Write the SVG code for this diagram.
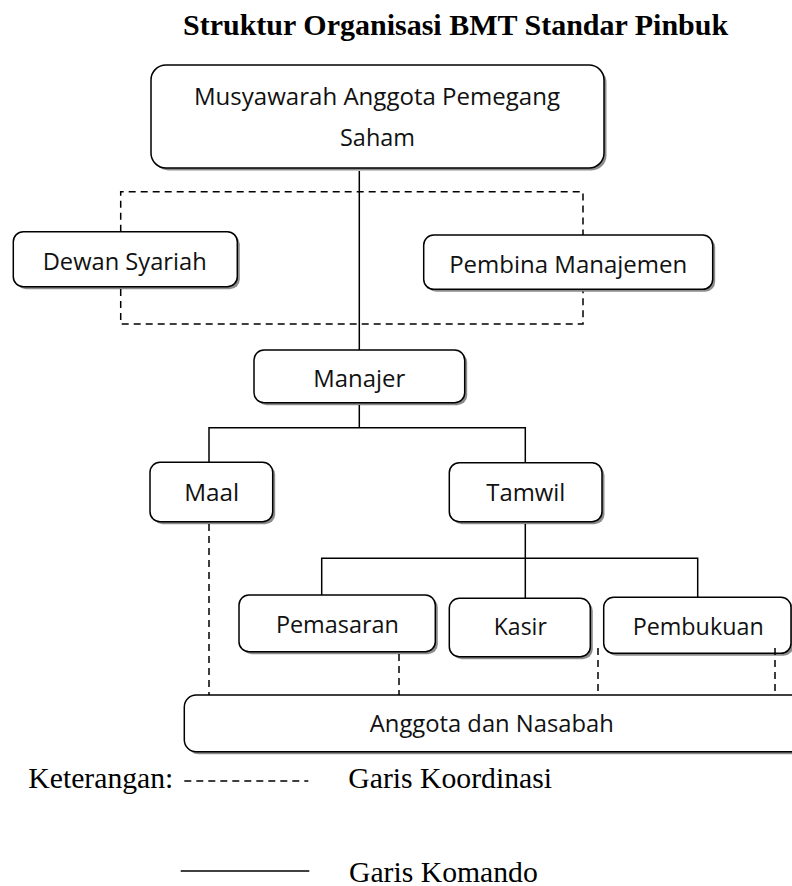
<svg xmlns="http://www.w3.org/2000/svg" width="792" height="886" viewBox="0 0 792 886">
  <style>
    .shadow { fill: #8c8c8c; stroke: none; }
    .box { fill: #ffffff; stroke: #000000; stroke-width: 1.5; }
    .lbl { font-family: "Open Sans", "Noto Sans", sans-serif; font-size: 24px; fill: #111111; text-anchor: middle; }
    .serif { font-family: "Liberation Serif", "Times New Roman", serif; fill: #000000; }
    .title { font-size: 30px; font-weight: bold; }
    .legend { font-size: 29.7px; }
    .solid { fill: none; stroke: #000000; stroke-width: 1.5; }
    .dash { fill: none; stroke: #000000; stroke-width: 1.5; stroke-dasharray: 7 5; }
  </style>
  <rect x="0" y="0" width="792" height="886" fill="#ffffff"/>

  <text id="title" class="serif title" x="183" y="35">Struktur Organisasi BMT Standar Pinbuk</text>

  <g id="node-musyawarah">
    <rect class="shadow" x="153.5" y="67.5" width="453" height="103" rx="15"/>
    <rect class="box" x="151" y="65" width="453" height="103" rx="15"/>
    <text class="lbl" x="377" y="105" textLength="366" lengthAdjust="spacingAndGlyphs">Musyawarah Anggota Pemegang</text>
    <text class="lbl" x="377.5" y="145.5" textLength="75" lengthAdjust="spacingAndGlyphs">Saham</text>
  </g>

  <g id="node-dewan-syariah">
    <rect class="shadow" x="15.8" y="234.2" width="224" height="55" rx="10"/>
    <rect class="box" x="13.3" y="231.7" width="224" height="55" rx="10"/>
    <text class="lbl" x="124.7" y="270" textLength="164" lengthAdjust="spacingAndGlyphs">Dewan Syariah</text>
  </g>

  <g id="node-pembina">
    <rect class="shadow" x="426.2" y="237.5" width="289" height="54.3" rx="10"/>
    <rect class="box" x="423.7" y="235" width="289" height="54.3" rx="10"/>
    <text class="lbl" x="568.2" y="273" textLength="238" lengthAdjust="spacingAndGlyphs">Pembina Manajemen</text>
  </g>

  <g id="node-manajer">
    <rect class="shadow" x="256.5" y="352.5" width="210.7" height="52.7" rx="10"/>
    <rect class="box" x="254" y="350" width="210.7" height="52.7" rx="10"/>
    <text class="lbl" x="359.3" y="387" textLength="92" lengthAdjust="spacingAndGlyphs">Manajer</text>
  </g>

  <g id="node-maal">
    <rect class="shadow" x="152.5" y="464.8" width="122.7" height="59.4" rx="10"/>
    <rect class="box" x="150" y="462.3" width="122.7" height="59.4" rx="10"/>
    <text class="lbl" x="211.7" y="500.7" textLength="55" lengthAdjust="spacingAndGlyphs">Maal</text>
  </g>

  <g id="node-tamwil">
    <rect class="shadow" x="451.8" y="465.2" width="152.7" height="59" rx="10"/>
    <rect class="box" x="449.3" y="462.7" width="152.7" height="59" rx="10"/>
    <text class="lbl" x="525.8" y="500.7" textLength="79" lengthAdjust="spacingAndGlyphs">Tamwil</text>
  </g>

  <g id="node-pemasaran">
    <rect class="shadow" x="241.5" y="597.5" width="196.3" height="56.7" rx="10"/>
    <rect class="box" x="239" y="595" width="196.3" height="56.7" rx="10"/>
    <text class="lbl" x="337.4" y="633.3" textLength="123" lengthAdjust="spacingAndGlyphs">Pemasaran</text>
  </g>

  <g id="node-kasir">
    <rect class="shadow" x="451.8" y="600.8" width="141" height="58.4" rx="10"/>
    <rect class="box" x="449.3" y="598.3" width="141" height="58.4" rx="10"/>
    <text class="lbl" x="520.3" y="635" textLength="53" lengthAdjust="spacingAndGlyphs">Kasir</text>
  </g>

  <g id="node-pembukuan">
    <rect class="shadow" x="606.2" y="599.8" width="187.3" height="56" rx="10"/>
    <rect class="box" x="603.7" y="597.3" width="187.3" height="56" rx="10"/>
    <text class="lbl" x="698.2" y="635" textLength="131" lengthAdjust="spacingAndGlyphs">Pembukuan</text>
  </g>

  <g id="node-anggota">
    <rect class="shadow" x="186.8" y="697.5" width="620" height="56.7" rx="12"/>
    <rect class="box" x="184.3" y="695" width="620" height="56.7" rx="12"/>
    <text class="lbl" x="491.8" y="731.7" textLength="244" lengthAdjust="spacingAndGlyphs">Anggota dan Nasabah</text>
  </g>

  <g id="connectors">
    <!-- Garis Komando (solid) -->
    <path class="solid" d="M359.3 171 V350"/>
    <path class="solid" d="M359.3 405 V427.7"/>
    <path class="solid" d="M209 462.3 V427.7 H525.3 V462.7"/>
    <path class="solid" d="M525.3 524 V598.3"/>
    <path class="solid" d="M321.7 595 V558.3 H697.7 V597.3"/>
    <!-- Garis Koordinasi (dashed) -->
    <path class="dash" d="M120.7 231.7 V191.7 H583 V235"/>
    <path class="dash" d="M120.7 289 V324 H583 V291.5"/>
    <path class="dash" d="M209 524 V695"/>
    <path class="dash" d="M399 654 V695"/>
    <path class="dash" d="M598 648 V695"/>
    <path class="dash" d="M775 648 V695"/>
  </g>

  <g id="legend">
    <text class="serif legend" x="28.3" y="788.3">Keterangan:</text>
    <path class="dash" d="M184.3 781 H308.3"/>
    <text class="serif legend" x="348.3" y="788.3">Garis Koordinasi</text>
    <path class="solid" d="M180.7 871 H309.3"/>
    <text class="serif legend" x="349" y="881.7">Garis Komando</text>
  </g>
</svg>
